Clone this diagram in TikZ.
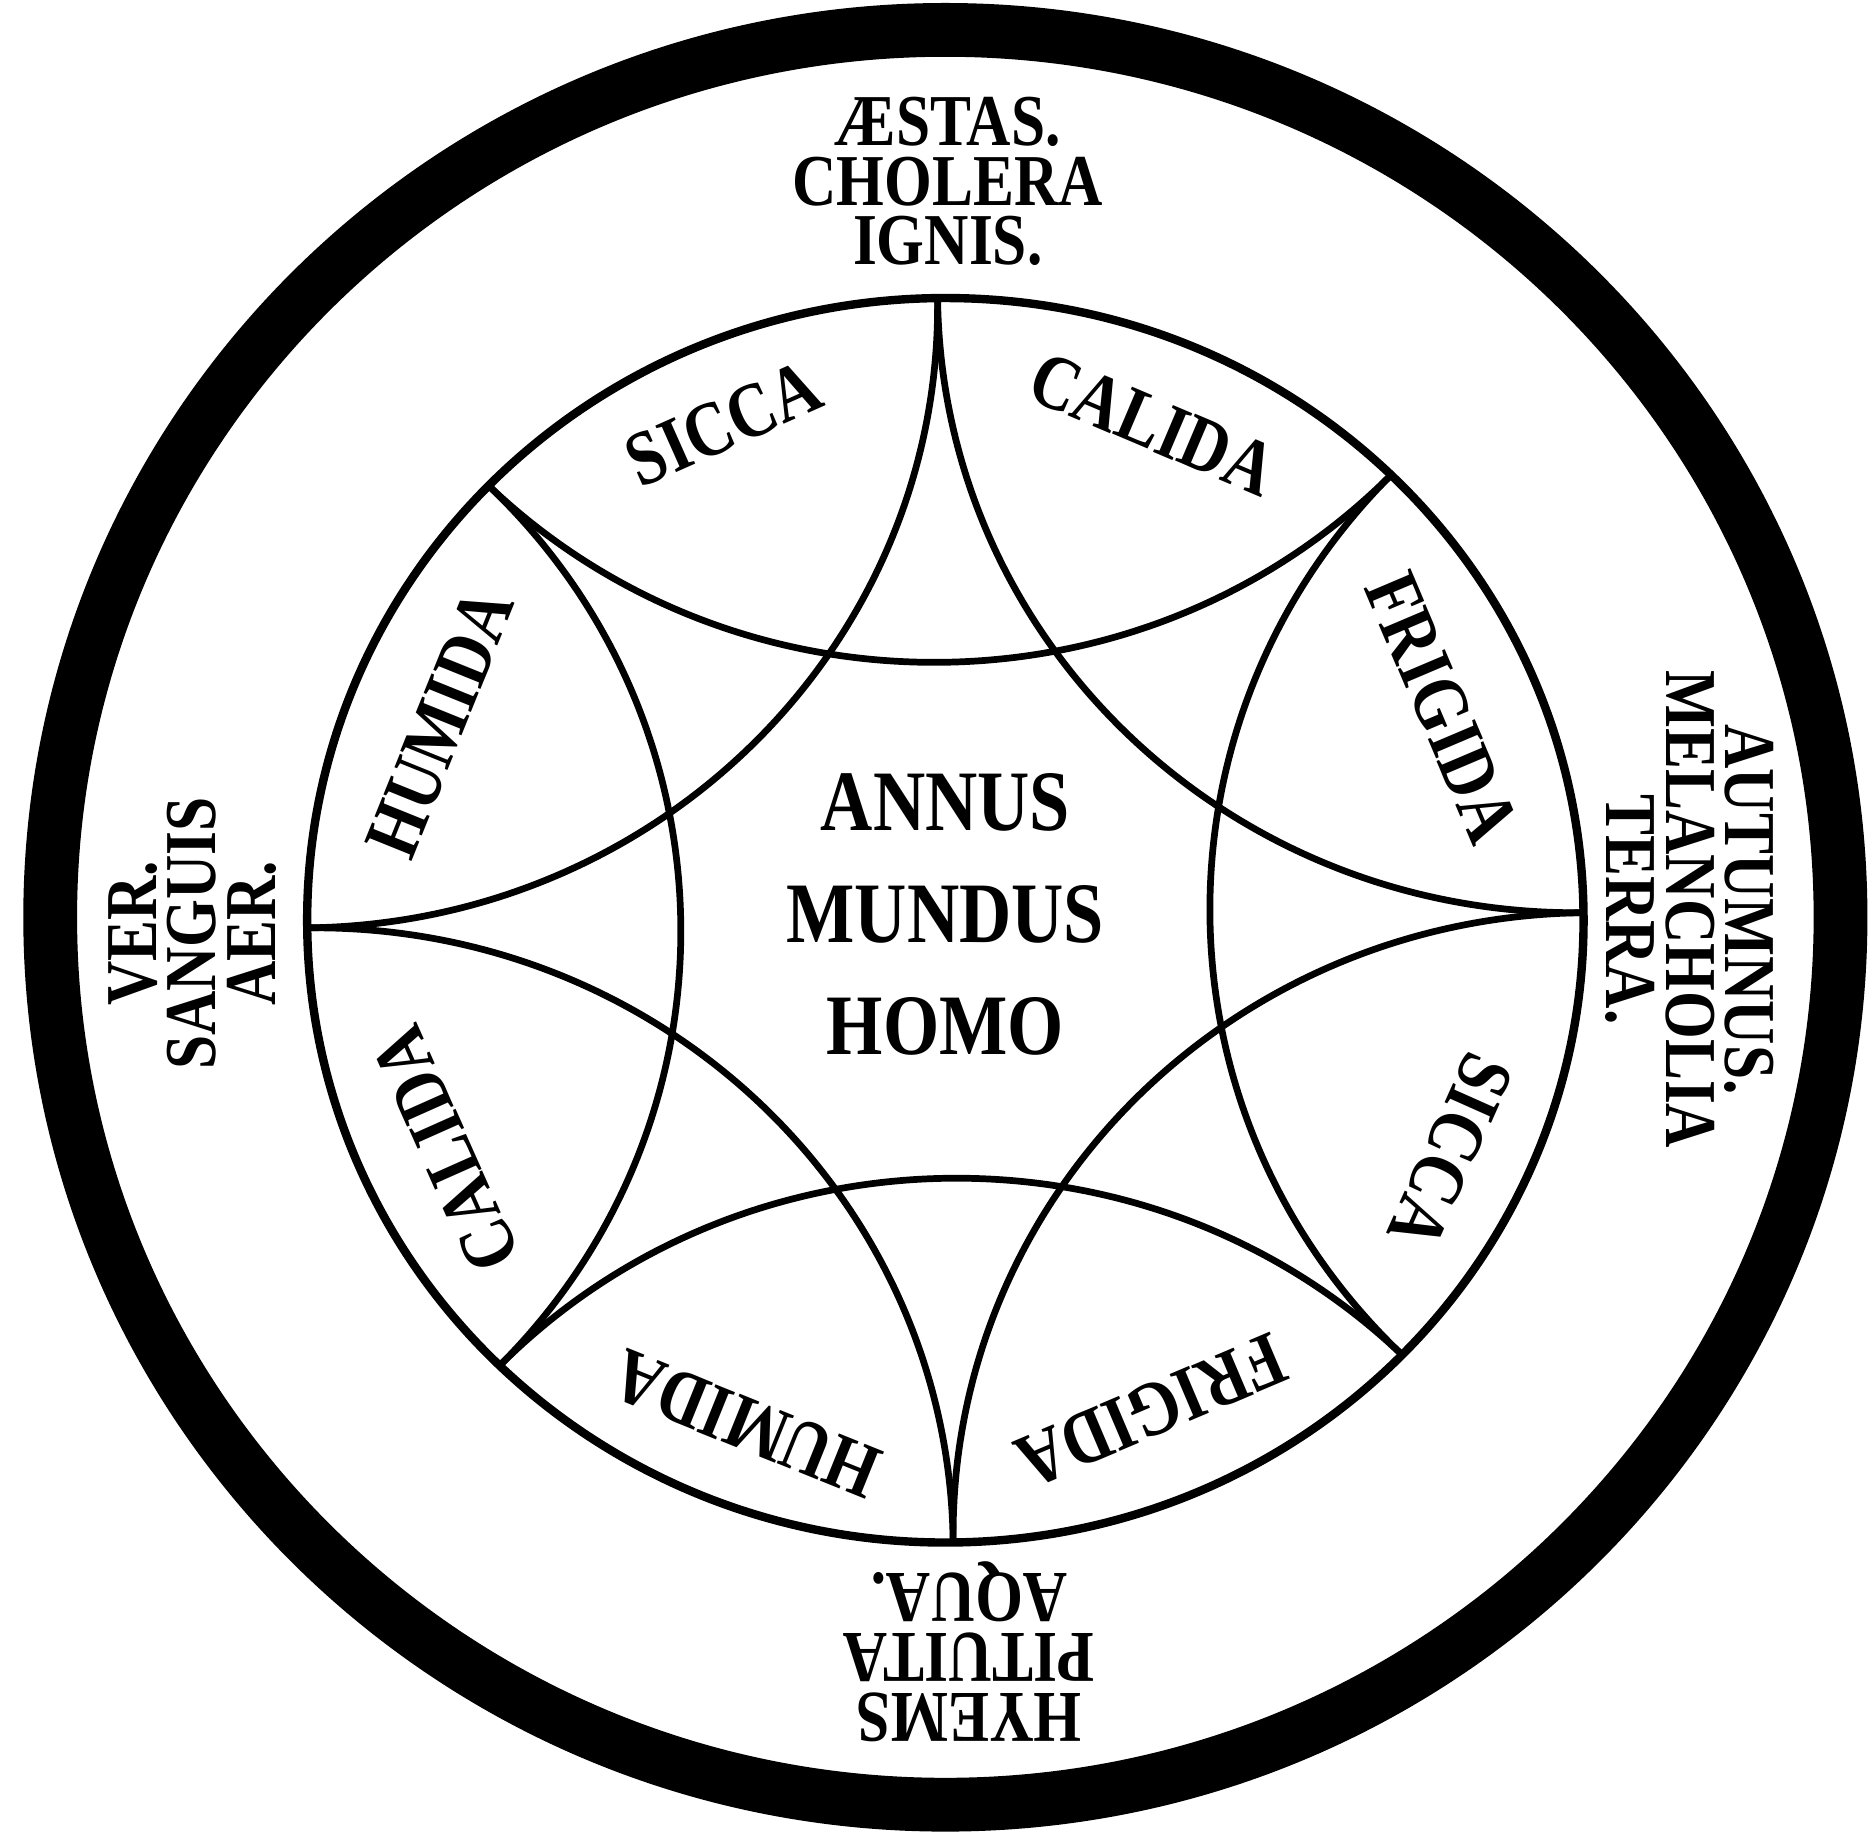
\documentclass[tikz,border=0pt]{standalone}
\usepackage{fontspec}
\newfontfamily\platefont{Liberation Serif}[FakeStretch=0.84]
\usetikzlibrary{positioning}
\tikzset{
    % --- Heavy outer rim ---
    rim/.style = {line width=0.45cm},
    % --- Inner circle ---
    inner ring/.style = {line width=2pt},
    % --- Star arcs between points of the inner circle ---
    star arc/.style = {line width=1.6pt},
    % --- Outer block: season, humour, element ---
    season/.style = {
        font=\platefont\bfseries\fontsize{17.4}{14.2}\selectfont,
        align=center, inner sep=0pt
    },
    % --- Quality word inside the inner circle ---
    quality/.style = {
        font=\platefont\bfseries\fontsize{18.5}{20}\selectfont,
        inner sep=0pt
    },
    % --- Centre words ---
    centre words/.style = {
        font=\platefont\bfseries\fontsize{20.5}{26.7}\selectfont,
        align=center, inner sep=0pt
    }
}

\begin{document}
\begin{tikzpicture}

\useasboundingbox (-7.91,-7.65) rectangle (7.77,7.70);

% ---------------------------------------------------------
% Outer rim
% ---------------------------------------------------------
\draw[rim] (0,0.025) ellipse[x radius=7.49, y radius=7.425];

% ---------------------------------------------------------
% Inner circle, its eight points and the two stars
% ---------------------------------------------------------
\begin{scope}[yscale=0.975, rotate=0.7]
    \draw[inner ring] (0,0) circle[radius=5.34];

    \coordinate (N)  at (90:5.34);
    \coordinate (W)  at (180:5.34);
    \coordinate (S)  at (270:5.34);
    \coordinate (E)  at (0:5.34);
    \coordinate (NW) at (135:5.34);
    \coordinate (SW) at (225:5.34);
    \coordinate (SE) at (315:5.34);
    \coordinate (NE) at (45:5.34);

    % star through top, left, bottom, right
    \draw[star arc] (N) to[bend left=45] (W);
    \draw[star arc] (W) to[bend left=45] (S);
    \draw[star arc] (S) to[bend left=45] (E);
    \draw[star arc] (E) to[bend left=45] (N);

    % star through the diagonal points
    \draw[star arc] (NW) to[bend left=45] (SW);
    \draw[star arc] (SW) to[bend left=45] (SE);
    \draw[star arc] (SE) to[bend left=45] (NE);
    \draw[star arc] (NE) to[bend left=45] (NW);
\end{scope}

% ---------------------------------------------------------
% Seasons, humours, elements (outer ring)
% ---------------------------------------------------------
\node[season] (aestas) at (0.02,6.18) {ÆSTAS.\\CHOLERA\\IGNIS.};
\node[season, rotate=-90] (autumnus) at (6.23,0.09) {AUTUMNUS.\\MELANCHOLIA\\TERRA.};
\node[season, rotate=180] (hyems) at (0.2,-6.12) {HYEMS\\PITUITA\\AQUA.};
\node[season, rotate=90] (ver) at (-6.30,-0.11) {VER.\\SANGUIS\\AER.};

% ---------------------------------------------------------
% Qualities (inside inner circle)
% ---------------------------------------------------------
\node[quality, rotate=24]   (sicca1)   at (114.1:4.55) {SICCA};
\node[quality, rotate=-23]  (calida1)  at (67.3:4.50)  {CALIDA};
\node[quality, rotate=-67]  (frigida1) at (23.2:4.52)  {FRIGIDA};
\node[quality, rotate=-114] (sicca2)   at (-24.6:4.65) {SICCA};
\node[quality, rotate=-157] (frigida2) at (-67.2:4.45) {FRIGIDA};
\node[quality, rotate=158]  (humida2)  at (-111.5:4.53) {HUMIDA};
\node[quality, rotate=114]  (calida2)  at (204.6:4.60) {CALIDA};
\node[quality, rotate=68]   (humida1)  at (158.7:4.54) {HUMIDA};

% ---------------------------------------------------------
% Centre
% ---------------------------------------------------------
\node[centre words] (annus) at (0,0.05) {ANNUS\\MUNDUS\\HOMO};

\end{tikzpicture}
\end{document}
